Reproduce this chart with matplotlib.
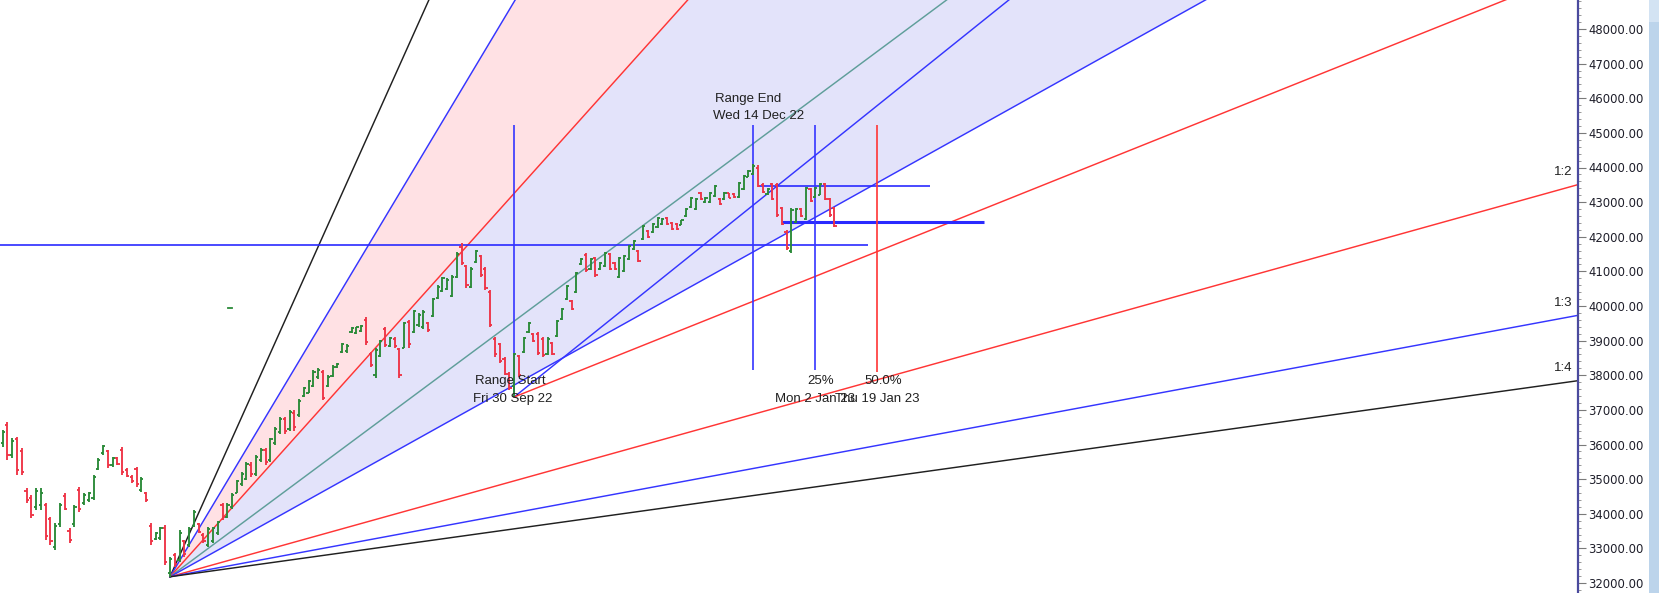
import matplotlib
matplotlib.use('Agg')
import matplotlib.pyplot as plt
from matplotlib.collections import LineCollection
from matplotlib.patches import Rectangle
from matplotlib.ticker import MultipleLocator, FixedLocator
import numpy as np

# ---------------- data (daily OHLC, bar index 0 = first visible bar) ----------------
opens = [36050, 36550, 35700, 36150, 35800, 34650, 34450, 34200, 34250, 34250,
         33850, 33050, 33700, 34500, 33500, 33700, 34700, 34300, 34400, 34450,
         35300, 35750, 35800, 35400, 35600, 35850, 35250, 35050, 35300, 34700,
         34600, 33650, 33280, 33300, 33600, 32300,
         32800, 32650, 33200, 33100, 33650, 33700, 33400, 33100, 33200, 33450,
         34250, 33900, 34200, 34600, 34850, 35000, 35400, 35150, 35550, 35850,
         35550, 36050, 36350, 36750, 36450, 36900, 36850,
         37400, 37500, 37700, 37950, 38100, 37700, 37980, 38230, 38660, 38700,
         39240, 39220, 39270, 39600, 38620, 38000, 38550, 39350, 38840, 39050,
         38750, 38800, 39550,
         39250, 39450, 39400, 39500, 39700, 40220, 40420, 40500,
         40300, 40850, 41700, 41150, 40550, 41260, 41450, 41080, 40400, 39050,
         38900, 38480, 38050, 37700,
         38550, 38670, 39240, 39200, 39200, 39050, 38620, 38930, 39130,
         39620, 40200, 40150, 40400, 41200, 41480, 41060, 41380, 41060, 41150,
         41500, 41250, 40850, 41000, 41350, 41640, 41590, 41930, 42170, 42130,
         42270, 42360, 42550, 42400, 42380, 42350, 42590, 42850, 42800, 43270,
         42990, 43000, 43170, 43100, 43080, 43250, 43240, 43140, 43380, 43740,
         43800,
         44000, 43500, 43230, 43520, 43500, 42820, 42150, 41600, 42420, 42800,
         42520, 43380, 43140, 43220, 43520, 43100, 42830]
highs = [36419, 36660, 36178, 36226, 35890, 34734, 34542, 34734, 34734, 34301,
         33916, 33724, 34301, 34590, 33579, 34253, 34782, 34590, 34638, 35119,
         35601, 35986, 35841, 35649, 35649, 35938, 35312, 35119, 35360, 35071,
         34638, 33724, 33483, 33627, 33675, 32761,
         32860, 33530, 33240, 33620, 34100, 33720, 33430, 33620, 33620, 33800,
         34300, 34300, 34600, 34980, 35200, 35500, 35500, 35700, 35900, 35900,
         36200, 36500, 36800, 36800, 37000, 37000, 37300,
         37660, 37860, 38150, 38200, 38151, 38000, 38296, 38354, 38931, 38900,
         39393, 39400, 39450, 39682, 38671, 38787, 39017, 39393, 39104, 39100,
         38787, 39537, 39600,
         39884, 39800, 39884, 39537, 40231, 40600, 40837, 40800,
         40900, 41559, 41819, 41184, 41126, 41617, 41473, 41126, 40462, 39104,
         38931, 38527, 38094, 38642,
         38584, 39104, 39537, 39220, 39249, 39104, 39104, 38960, 39595,
         39942, 40606, 40173, 40982, 41386, 41530, 41386, 41415, 41270, 41559,
         41530, 41270, 41415, 41473, 41761, 41906, 41617, 42339, 42195, 42397,
         42570, 42541, 42570, 42426, 42397, 42483, 42830, 43148, 43119, 43292,
         43148, 43292, 43494, 43119, 43292, 43263, 43263, 43581, 43783, 43927,
         44100,
         44072, 43552, 43408, 43552, 43552, 42859, 42195, 42830, 42830, 42830,
         43436, 43408, 43436, 43552, 43552, 43119, 42859]
lows = [35938, 35553, 35601, 35119, 35119, 34301, 33868, 34108, 34108, 33242,
        33098, 32953, 33627, 34108, 33146, 33627, 34060, 34253, 34349, 34397,
        35264, 35697, 35312, 35360, 35408, 35119, 35071, 34879, 34782, 34638,
        34349, 33098, 33242, 33242, 32520, 32180,
        32470, 32620, 32760, 33050, 33620, 33430, 33150, 33050, 33150, 33400,
        33820, 33870, 34150, 34590, 34800, 34980, 35050, 35100, 35500, 35400,
        35500, 36000, 36300, 36300, 36400, 36400, 36800,
        37372, 37480, 37660, 37900, 37285, 37660, 37950, 38209, 38642, 38650,
        39220, 39200, 39250, 38873, 38238, 37920, 38527, 38815, 38815, 38800,
        37920, 38787, 38800,
        39220, 39400, 39350, 39250, 39682, 40200, 40400, 40450,
        40260, 40800, 41184, 40520, 40520, 41242, 40837, 40462, 39393, 38527,
        38354, 38007, 37574, 37372,
        37949, 38642, 39220, 38960, 38584, 38527, 38584, 38584, 39104,
        39595, 40173, 39884, 40375, 41184, 40982, 41039, 40837, 41039, 41126,
        41039, 41039, 40808, 40982, 41328, 41617, 41270, 41906, 41964, 42108,
        42252, 42339, 42339, 42195, 42195, 42339, 42570, 42830, 42772, 43061,
        42974, 42974, 43148, 42917, 43061, 43119, 43119, 43119, 43350, 43725,
        43790,
        43436, 43263, 43205, 43061, 42570, 42339, 41617, 41530, 42397, 42570,
        42483, 43003, 43119, 43205, 43061, 42570, 42281]
closes = [36350, 35700, 36100, 35250, 35200, 34400, 33950, 34650, 34600, 33350,
          33200, 33650, 34250, 34150, 33250, 34200, 34150, 34550, 34600, 35050,
          35550, 35950, 35400, 35600, 35450, 35200, 35100, 34950, 34850, 35000,
          34400, 33200, 33450, 33580, 32600, 32700,
          32550, 33450, 32850, 33550, 34050, 33480, 33200, 33550, 33580, 33750,
          33900, 34250, 34550, 34950, 35150, 35450, 35150, 35650, 35850, 35500,
          36150, 36450, 36750, 36400, 36950, 36500, 37250,
          37620, 37820, 38100, 38150, 37350, 37950, 38250, 38330, 38900, 38850,
          39370, 39380, 39420, 38950, 38300, 38720, 38980, 38870, 39070, 38850,
          38000, 39500, 38900,
          39850, 39750, 39820, 39300, 40200, 40550, 40800, 40750,
          40850, 41500, 41250, 40600, 41080, 41580, 40900, 40520, 39450, 38600,
          38400, 38050, 37620, 38600,
          38000, 39080, 39500, 39000, 38650, 38580, 39060, 38620, 39560,
          39920, 40580, 39920, 40950, 41360, 41050, 41350, 40900, 41250, 41520,
          41080, 41070, 41380, 41440, 41730, 41880, 41300, 42300, 42000, 42370,
          42540, 42520, 42360, 42220, 42230, 42470, 42800, 43120, 43090, 43080,
          43130, 43270, 43470, 42940, 43270, 43130, 43140, 43550, 43760, 43900,
          44050,
          43480, 43290, 43390, 43100, 42620, 42380, 41680, 42780, 42800, 42600,
          43400, 43040, 43400, 43520, 43100, 42620, 42300]

stray_mark = (47.5, 39942)          # isolated green dash left of the fan

# Gann fan from the June low
fan_origin = (35, 32180)
fan_unit = 76.9                      # price per bar for the 1:1 angle
fan_ratios = [4, 3, 2, 4 / 3, 1, 1 / 2, 1 / 3, 1 / 4]
fan_colors = ['#202020', '#3535ff', '#ff3535', '#5f9e9a', '#3535ff', '#ff3535', '#3535ff', '#202020']
fan_labels = ['', '', '', '', '', '1:2', '1:3', '1:4']

# second fan from the range start low
range_fan_origin = (107, 37372)
range_fan_slopes = [110.8, 55.3]
range_fan_colors = ['#3535ff', '#ff3535']

# horizontal price lines
h_prices = [41769, 43465, 42434]
h_starts = [-1, 158, 163]
h_ends = [181, 194, 205.3]
h_widths = [1.2, 1.2, 2.2]

# time cycle verticals
v_idx = [107, 157, 170, 183]
v_top = 45227
v_bottom = [37480, 38151, 38151, 38100]
v_colors = ['#3535ff', '#3535ff', '#3535ff', '#ff3535']
v_titles = ['Range Start', 'Range End', '25%', '50.0%']
v_dates = ['Fri 30 Sep 22', 'Wed 14 Dec 22', 'Mon 2 Jan 23', 'Thu 19 Jan 23']

# ---------------- geometry of the window ----------------
W, H = 1659, 593
BAR_PX = 4.78
X_LEFT = fan_origin[0] - 170 / BAR_PX
X_RIGHT = fan_origin[0] + (1578 - 170) / BAR_PX
Y_BOTTOM = 32000 - 10 * 1000 / 34.625
Y_TOP = 48000 + 29 * 1000 / 34.625

fig = plt.figure(figsize=(W / 100, H / 100), dpi=100)
fig.patch.set_facecolor('white')
ax = fig.add_axes([0, 0, 1578 / W, 1])
ax.set_xlim(X_LEFT, X_RIGHT)
ax.set_ylim(Y_BOTTOM, Y_TOP)
ax.set_facecolor('white')

ox, oy = fan_origin
xf = np.linspace(ox, X_RIGHT, 400)

def fan_line(r):
    return oy + fan_unit * r * (xf - ox)

# fills
ax.fill_between(xf, fan_line(2), fan_line(3), color='#ffe1e4', lw=0, zorder=1)
ax.fill_between(xf, fan_line(1), fan_line(2), color='#e3e3fa', lw=0, zorder=1)

for r, c, lab in zip(fan_ratios, fan_colors, fan_labels):
    ax.plot(xf, fan_line(r), color=c, lw=1.05, zorder=2)
    if lab:
        yy = oy + fan_unit * r * (X_RIGHT - ox)
        ax.text(X_RIGHT - 1.2, yy + 180, lab, ha='right', va='bottom', fontsize=9.5,
                family=['Liberation Sans', 'DejaVu Sans'], color='#202020', zorder=6)

rx, ry = range_fan_origin
xr = np.linspace(rx, X_RIGHT, 200)
for s, c in zip(range_fan_slopes, range_fan_colors):
    ax.plot(xr, ry + s * (xr - rx), color=c, lw=1.05, zorder=2)

for p, a, b, w in zip(h_prices, h_starts, h_ends, h_widths):
    ax.plot([a, b], [p, p], color='#2a2aff', lw=w, zorder=3, solid_capstyle='butt')

for i, b, c in zip(v_idx, v_bottom, v_colors):
    ax.plot([i, i], [b, v_top], color=c, lw=1.2, zorder=3, solid_capstyle='butt')

# ---------------- OHLC bars ----------------
segs_g, segs_r = [], []
tick = 0.45
for i, (o, h, l, c) in enumerate(zip(opens, highs, lows, closes)):
    s = [[(i, l), (i, h)], [(i - tick, o), (i, o)], [(i, c), (i + tick, c)]]
    (segs_g if c >= o else segs_r).extend(s)
ax.add_collection(LineCollection(segs_g, colors='#2a8a38', linewidths=1.35, zorder=4))
ax.add_collection(LineCollection(segs_r, colors='#ee3446', linewidths=1.35, zorder=4))
ax.plot([stray_mark[0] - 0.4, stray_mark[0] + 0.4], [stray_mark[1]] * 2, color='#2a8a38', lw=1.3, zorder=4)

# ---------------- labels of the time cycle ----------------
tf = ['Liberation Sans', 'DejaVu Sans']
px2p = 1000 / 34.625  # price per pixel
ax.text(v_idx[0] - 0.8, 37834, v_titles[0], ha='center', va='center', fontsize=9.5, family=tf, color='#202020', zorder=6)
ax.text(v_idx[0] - 0.4, 37834 - 18 * px2p, v_dates[0], ha='center', va='center', fontsize=9.5, family=tf, color='#202020', zorder=6)
ax.text(v_idx[1] - 1.1, v_top + 26 * px2p, v_titles[1], ha='center', va='center', fontsize=9.5, family=tf, color='#202020', zorder=6)
ax.text(v_idx[1] + 1.2, v_top + 9 * px2p, v_dates[1], ha='center', va='center', fontsize=9.5, family=tf, color='#202020', zorder=6)
for k in (2, 3):
    ax.text(v_idx[k] + 1.2, 37834, v_titles[k], ha='center', va='center', fontsize=9.5, family=tf, color='#202020', zorder=6)
    ax.text(v_idx[k], 37834 - 18 * px2p, v_dates[k], ha='center', va='center', fontsize=9.5, family=tf, color='#202020', zorder=6)

# ---------------- axis ----------------
for sp in ('left', 'top', 'bottom'):
    ax.spines[sp].set_visible(False)
ax.spines['right'].set_color('#4a4a9e')
ax.spines['right'].set_linewidth(1.6)
ax.set_xticks([])
ax.yaxis.tick_right()
ax.yaxis.set_major_locator(FixedLocator(np.arange(32000, 48001, 1000)))
ax.yaxis.set_minor_locator(MultipleLocator(200))
ax.yaxis.set_major_formatter(matplotlib.ticker.FuncFormatter(lambda v, p: f'{v:.2f}'))
ax.tick_params(axis='y', which='major', length=5.8, width=0.8, color='#7a7a7a', pad=1.5,
               labelsize=8.4, labelcolor='#1e1e2a')
ax.tick_params(axis='y', which='minor', length=2.5, width=0.7, color='#9a9a9a')

fig.patches.append(Rectangle((1649 / W, 0), 10 / W, 1, transform=fig.transFigure,
                             facecolor='#bcd4eb', edgecolor='none'))
fig.patches.append(Rectangle((1649 / W, 1 - 22 / H), 10 / W, 22 / H, transform=fig.transFigure,
                             facecolor='#d3e3f3', edgecolor='none'))

fig.savefig('out.png', dpi=100)
